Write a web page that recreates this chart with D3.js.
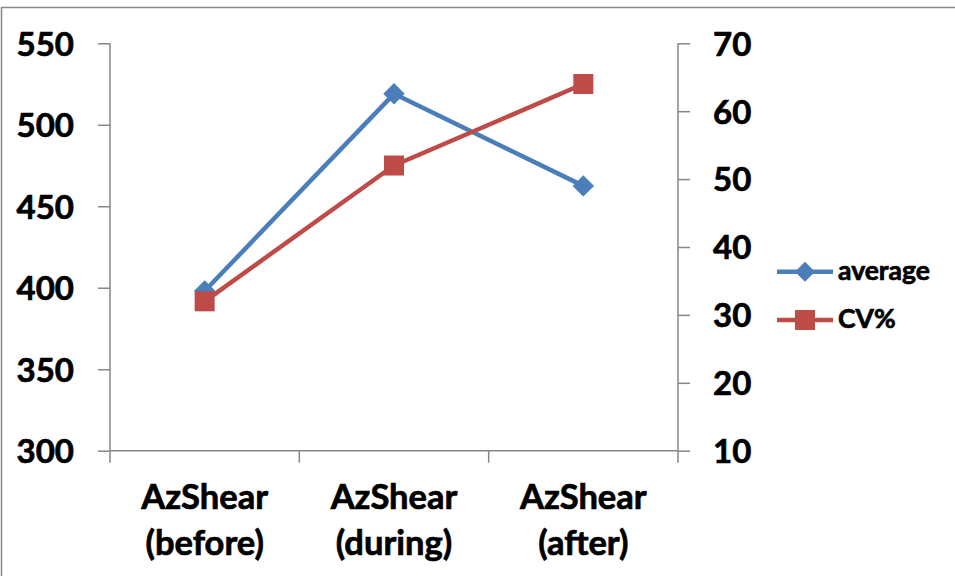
<!DOCTYPE html>
<html>
<head>
<meta charset="utf-8">
<script src="https://cdn.jsdelivr.net/npm/d3@7"></script>
<style>
  html, body { margin: 0; padding: 0; background: #fff; }
  svg { display: block; }
  text { font-family: Lato, "Open Sans", sans-serif; font-weight: 700; fill: #000; stroke: #000; stroke-width: 0.7px; }
</style>
</head>
<body>
<svg id="chart" width="955" height="576"></svg>
<script>
// Categories and series
const categories = [["AzShear", "(before)"], ["AzShear", "(during)"], ["AzShear", "(after)"]];
const average = [398, 519, 462.5];
const cvPercent = [32, 52, 64];
const leftTicks = [300, 350, 400, 450, 500, 550];
const rightTicks = [10, 20, 30, 40, 50, 60, 70];
const seriesNames = ["average", "CV%"];

const blue = "#4a7ebb", red = "#be4b48", axisGray = "#868686";

const svg = d3.select("#chart");

// outer chart frame
svg.append("rect")
  .attr("x", 1.5).attr("y", 7.5).attr("width", 1000).attr("height", 700)
  .attr("fill", "#fff").attr("stroke", "#888").attr("stroke-width", 1.5);

const plot = { left: 110, right: 678, top: 43.3, bottom: 450.7 };

const x = d3.scaleBand()
  .domain(categories.map((c, i) => i))
  .range([plot.left, plot.right])
  .padding(0);
const yL = d3.scaleLinear().domain([300, 550]).range([plot.bottom, plot.top]);
const yR = d3.scaleLinear().domain([10, 70]).range([plot.bottom, plot.top]);
const cx = i => x(i) + x.bandwidth() / 2;

// left axis
const gL = svg.append("g").attr("transform", `translate(${plot.left},0)`)
  .call(d3.axisLeft(yL).tickValues(leftTicks).tickSize(12).tickPadding(24).tickFormat(d3.format("d")));
// right axis
const gR = svg.append("g").attr("transform", `translate(${plot.right},0)`)
  .call(d3.axisRight(yR).tickValues(rightTicks).tickSize(12).tickPadding(23).tickFormat(d3.format("d")));
// category axis: ticks on band edges
const edges = d3.range(categories.length + 1).map(i => plot.left + i * x.bandwidth());
const gX = svg.append("g").attr("transform", `translate(0,${plot.bottom})`);
gX.append("line").attr("x1", plot.left).attr("x2", plot.right).attr("y1", 0).attr("y2", 0);
gX.selectAll("line.tick").data(edges).join("line").attr("class", "tick")
  .attr("x1", d => d).attr("x2", d => d).attr("y1", 0).attr("y2", 12);

[gL, gR].forEach(g => {
  g.select(".domain").attr("stroke", axisGray).attr("stroke-width", 1.5)
    .attr("d", `M0,${plot.top}V${plot.bottom}`);
  g.selectAll(".tick line").attr("stroke", axisGray).attr("stroke-width", 1.5);
  g.selectAll(".tick text").attr("font-size", 33).attr("font-family", "Lato").attr("font-weight", 700)
    .attr("fill", "#000").attr("dy", "0.36em");
});
gX.selectAll("line").attr("stroke", axisGray).attr("stroke-width", 1.5);

// category labels (two lines)
const lab = svg.append("g").selectAll("text").data(categories).join("text")
  .attr("text-anchor", "middle").attr("font-size", 34.5);
lab.each(function(c, i) {
  const t = d3.select(this);
  c.forEach((line, j) => {
    t.append("tspan").attr("x", cx(i)).attr("y", 509 + j * 45.5).text(line);
  });
});

// series lines
const lineAvg = d3.line().x((d, i) => cx(i)).y(d => yL(d));
const lineCv = d3.line().x((d, i) => cx(i)).y(d => yR(d));

svg.append("path").datum(average).attr("d", lineAvg)
  .attr("fill", "none").attr("stroke", blue).attr("stroke-width", 4.5).attr("stroke-linejoin", "round");
const diamond = d3.symbol().type(d3.symbolSquare).size(200);
svg.append("g").selectAll("path").data(average).join("path")
  .attr("d", diamond)
  .attr("transform", (d, i) => `translate(${cx(i)},${yL(d)}) rotate(45)`)
  .attr("fill", blue).attr("stroke", blue).attr("stroke-width", 1);

svg.append("path").datum(cvPercent).attr("d", lineCv)
  .attr("fill", "none").attr("stroke", red).attr("stroke-width", 4.5).attr("stroke-linejoin", "round");
svg.append("g").selectAll("rect").data(cvPercent).join("rect")
  .attr("x", (d, i) => cx(i) - 10).attr("y", d => yR(d) - 10)
  .attr("width", 20).attr("height", 20)
  .attr("fill", red);

// legend
const legY = [271.7, 320];
const leg = svg.append("g");
seriesNames.forEach((name, k) => {
  const col = k === 0 ? blue : red;
  const y = legY[k];
  leg.append("line").attr("x1", 777).attr("x2", 833).attr("y1", y).attr("y2", y)
    .attr("stroke", col).attr("stroke-width", 4.5);
  if (k === 0) {
    leg.append("path").attr("d", diamond).attr("transform", `translate(805,${y}) rotate(45)`)
      .attr("fill", col);
  } else {
    leg.append("rect").attr("x", 795).attr("y", y - 10).attr("width", 20).attr("height", 20).attr("fill", col);
  }
  leg.append("text").attr("x", 838).attr("y", y + 8).attr("font-size", 26.5).text(name);
});
</script>
</body>
</html>
